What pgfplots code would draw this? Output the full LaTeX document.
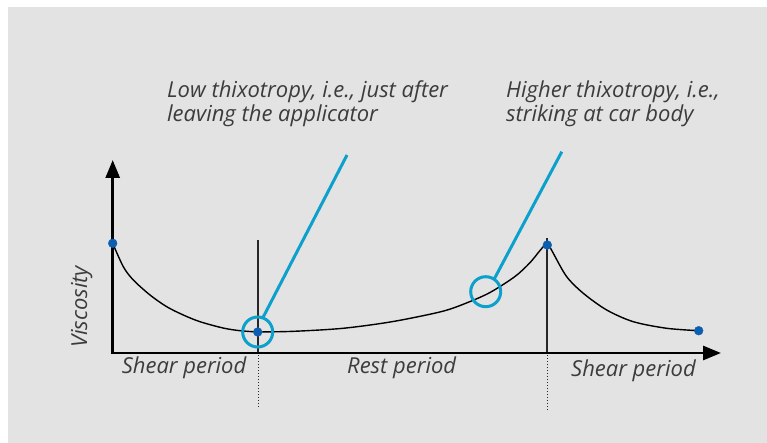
\documentclass[border=0pt]{standalone}
\usepackage{fontspec}
\setmainfont{Open Sans}
\usepackage{pgfplots}
\pgfplotsset{compat=1.18}
\usetikzlibrary{arrows.meta}
\definecolor{bg}{HTML}{E3E3E3}
\definecolor{cyanb}{HTML}{0CA0CC}
\definecolor{dotb}{HTML}{0A5FB0}
\definecolor{txt}{HTML}{3C3C3C}
\begin{document}
\begin{tikzpicture}
\begin{axis}[
  scale only axis, width=767pt, height=443pt,
  xmin=0, xmax=767, ymin=0, ymax=443,
  y dir=reverse, hide axis, clip=false,
]
\fill[white] (axis cs:0,0) rectangle (axis cs:767,443);
\fill[bg] (axis cs:8,7) rectangle (axis cs:767,443);
% vertical markers
\addplot[black!85, line width=1.2pt] coordinates {(258,240) (258,352)};
\addplot[black!85, line width=1.2pt] coordinates {(547,238) (547,352)};
\addplot[black!85, line width=1pt, dotted] coordinates {(258,352) (258,408)};
\addplot[black!85, line width=1pt, dotted] coordinates {(547,352) (547,410)};
% curve
\addplot[black, line width=1.4pt, smooth] coordinates {
 (112.7,243.3) (123.3,266.7) (133.3,280) (150,295) (166.7,306.7) (183.3,315)
 (200,321.7) (223,328) (240,330.7) (257.7,332)};
\addplot[black, line width=1.4pt, smooth] coordinates {
 (257.7,332) (294,331.3) (343,328.3) (392,321.7) (441,311.7) (465.7,303.3)
 (490,292.5) (514.7,276.7) (529.4,263.3) (540,250.5) (547.3,242)};
\addplot[black, line width=1.4pt, smooth] coordinates {
 (547.3,242) (553.3,253.3) (566.7,276.7) (583.3,293.3) (606.7,310)
 (633.3,321.7) (666.7,328.3) (698.7,330.7)};
% axes
\addplot[black, line width=2.8pt, -{Triangle[length=18pt,width=14pt]}] coordinates {(112.7,353) (721,353)};
\addplot[black, line width=2.8pt, -{Triangle[length=18pt,width=14pt]}] coordinates {(112.7,354.4) (112.7,160)};
% dots
\addplot[only marks, mark=*, mark size=4.4pt, mark options={fill=dotb, draw=dotb}] coordinates {
 (112.7,243.3) (257.7,332) (547.3,245) (698.7,330.7)};
% callouts
\addplot[only marks, mark=o, mark size=15pt, mark options={draw=cyanb, line width=3pt}] coordinates {(257.7,332) (485.7,291.7)};
\addplot[cyanb, line width=3pt] coordinates {(263,317.5) (347,155)};
\addplot[cyanb, line width=3pt] coordinates {(494.5,278.5) (561.8,151.7)};
% text
\tikzset{lab/.style={anchor=base west, text=txt, font=\fontsize{22}{24}\selectfont\itshape, inner sep=0pt}}
\node[lab] at (axis cs:167,97.5) {Low thixotropy, i.e., just after};
\node[lab] at (axis cs:167,121.5) {leaving the applicator};
\node[lab] at (axis cs:506,97.5) {Higher thixotropy, i.e.,};
\node[lab] at (axis cs:506,121.5) {striking at car body};
\node[lab] at (axis cs:121.6,373) {Shear period};
\node[lab] at (axis cs:347,373) {Rest period};
\node[lab] at (axis cs:571,376) {Shear period};
\node[lab, anchor=base, rotate=90] at (axis cs:87,307) {Viscosity};
\end{axis}
\end{tikzpicture}
\end{document}
